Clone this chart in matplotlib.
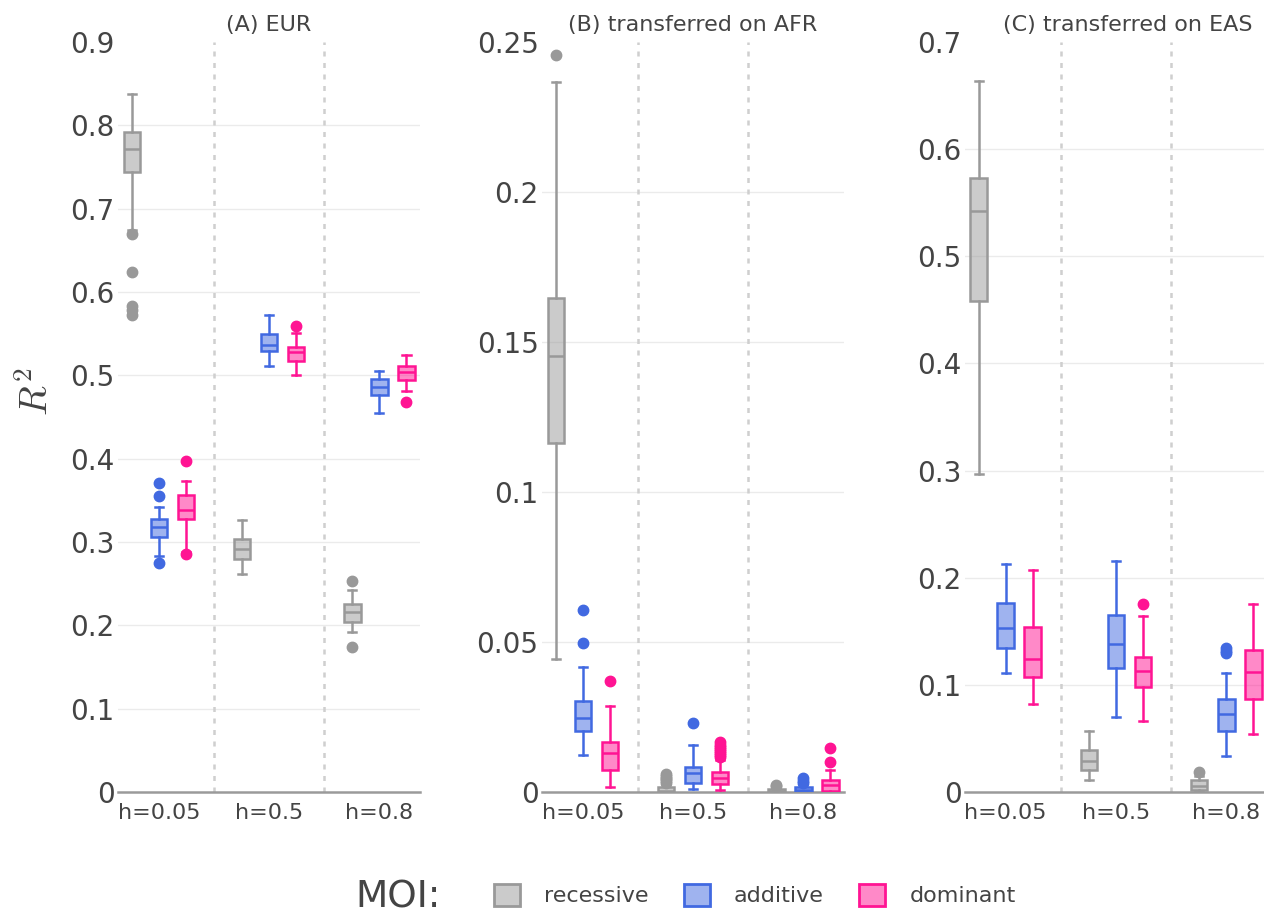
#!/usr/bin/env python
"""Box plots of R^2 per MOI and heritability, three populations"""

import matplotlib
matplotlib.use("Agg")
import matplotlib.pyplot as plt
from matplotlib.patches import Patch

plt.rcParams['font.family'] = ['DejaVu Sans']
plt.rcParams['mathtext.fontset'] = 'cm'

groups = ['h=0.05', 'h=0.5', 'h=0.8']
moi = ['recessive', 'additive', 'dominant']
colors = {'recessive': '#999999', 'additive': '#4169E1', 'dominant': '#FF1493'}
titles = ['(A) EUR', '(B) transferred on AFR', '(C) transferred on EAS']

# panel A - EUR
eur_med = {'recessive': [0.771, 0.292, 0.2157], 'additive': [0.318, 0.5366, 0.4858], 'dominant': [0.3385, 0.5274, 0.5038]}
eur_q1 = {'recessive': [0.7435, 0.2793, 0.2045], 'additive': [0.3065, 0.5294, 0.4766], 'dominant': [0.3277, 0.5174, 0.4946]}
eur_q3 = {'recessive': [0.7915, 0.3033, 0.2253], 'additive': [0.3273, 0.5494, 0.4958], 'dominant': [0.3565, 0.5334, 0.5106]}
eur_lo = {'recessive': [0.6745, 0.2617, 0.1917], 'additive': [0.283, 0.5114, 0.4546], 'dominant': [0.2885, 0.4998, 0.4806]}
eur_hi = {'recessive': [0.837, 0.3265, 0.2425], 'additive': [0.3417, 0.5726, 0.5054], 'dominant': [0.3733, 0.5506, 0.5246]}
eur_out = {'recessive': [[0.6695, 0.6235, 0.5826, 0.578, 0.5726], [], [0.2537, 0.1744]],
           'additive': [[0.3713, 0.3553, 0.2753], [], []],
           'dominant': [[0.3977, 0.2857], [0.5586], [0.4678]]}

# panel B - AFR
afr_med = {'recessive': [0.1453, 0.0004, 0.0003], 'additive': [0.0248, 0.0062, 0.0005], 'dominant': [0.0129, 0.0046, 0.0024]}
afr_q1 = {'recessive': [0.1164, 0.0, 0.0], 'additive': [0.0204, 0.0029, 0.0], 'dominant': [0.0073, 0.0026, 0.0003]}
afr_q3 = {'recessive': [0.1648, 0.0015, 0.001], 'additive': [0.0304, 0.0082, 0.0018], 'dominant': [0.0168, 0.0066, 0.004]}
afr_lo = {'recessive': [0.0443, 0.0, 0.0], 'additive': [0.0123, 0.0009, 0.0], 'dominant': [0.0018, 0.0005, 0.0]}
afr_hi = {'recessive': [0.2368, 0.0025, 0.0015], 'additive': [0.0416, 0.0157, 0.0025], 'dominant': [0.0285, 0.0105, 0.0073]}
afr_out = {'recessive': [[0.2456], [0.006, 0.0054, 0.0048, 0.0042, 0.0036, 0.003], [0.0022, 0.0019]],
           'additive': [[0.0607, 0.0498], [0.0229], [0.0045, 0.0038, 0.0031]],
           'dominant': [[0.037], [0.0165, 0.0158, 0.015, 0.0143, 0.0136, 0.013, 0.0122, 0.0115], [0.0146, 0.0101]]}

# panel C - EAS
eas_med = {'recessive': [0.5418, 0.0292, 0.006], 'additive': [0.1528, 0.1379, 0.0726], 'dominant': [0.1239, 0.1133, 0.1123]}
eas_q1 = {'recessive': [0.4578, 0.0205, 0.002], 'additive': [0.1347, 0.1161, 0.057], 'dominant': [0.1071, 0.0978, 0.0868]}
eas_q3 = {'recessive': [0.573, 0.0392, 0.0112], 'additive': [0.1762, 0.1653, 0.0866], 'dominant': [0.1543, 0.1258, 0.1326]}
eas_lo = {'recessive': [0.2966, 0.0112, 0.0], 'additive': [0.1108, 0.0703, 0.0339], 'dominant': [0.0825, 0.0666, 0.0542]}
eas_hi = {'recessive': [0.6632, 0.0573, 0.0145], 'additive': [0.2129, 0.216, 0.1114], 'dominant': [0.2073, 0.1646, 0.1755]}
eas_out = {'recessive': [[], [], [0.019]],
           'additive': [[], [], [0.1347, 0.132, 0.1295]],
           'dominant': [[], [0.1755], []]}

panels = [
	(eur_med, eur_q1, eur_q3, eur_lo, eur_hi, eur_out, 0.9, 0.1),
	(afr_med, afr_q1, afr_q3, afr_lo, afr_hi, afr_out, 0.25, 0.05),
	(eas_med, eas_q1, eas_q3, eas_lo, eas_hi, eas_out, 0.7, 0.1),
]

#axes placement (figure fractions)
lefts = [0.0934, 0.4288, 0.7634]
width = 0.239
bottom = 0.1373
height = 0.817
title_x = [0.5, 0.5, 0.54]
offsets = {'recessive': -0.245, 'additive': 0.0, 'dominant': 0.245}
lw = 1.8

fig = plt.figure(figsize=(12.64, 9.18), dpi=100)

for p, (med, q1, q3, lo, hi, out, ymax, step) in enumerate(panels):
	ax = fig.add_axes([lefts[p], bottom, width, height])
	ax.set_xlim(-0.37, 2.37)
	ax.set_ylim(0, ymax)
	ticks = [round(i * step, 3) for i in range(int(round(ymax / step)) + 1)]
	ax.set_yticks(ticks)
	ax.set_yticklabels(['0' if t == 0 else ('%g' % t) for t in ticks])
	for t in ticks[1:-1]:
		ax.axhline(t, color='#ebebeb', lw=1.0, zorder=0)
	for xb in (0.5, 1.5):
		ax.axvline(xb, color='#cfcfcf', lw=1.8, linestyle=(0, (2, 2.6)), zorder=1)

	for m in moi:
		c = colors[m]
		stats = []
		for g in range(3):
			stats.append(dict(med=med[m][g], q1=q1[m][g], q3=q3[m][g],
							  whislo=lo[m][g], whishi=hi[m][g], fliers=out[m][g]))
		pos = [g + offsets[m] for g in range(3)]
		ax.bxp(stats, positions=pos, widths=0.15, capwidths=0.075, patch_artist=True,
			   manage_ticks=False, showfliers=True,
			   boxprops=dict(facecolor=matplotlib.colors.to_rgba(c, 0.5), edgecolor=c, linewidth=lw),
			   medianprops=dict(color=c, linewidth=lw),
			   whiskerprops=dict(color=c, linewidth=lw),
			   capprops=dict(color=c, linewidth=lw),
			   flierprops=dict(marker='o', markerfacecolor=c, markeredgecolor=c, markersize=7.5),
			   zorder=3)

	ax.set_xticks(range(3))
	ax.set_xticklabels(groups)
	for s in ('top', 'left', 'right'):
		ax.spines[s].set_visible(False)
	ax.spines['bottom'].set_color('#9a9a9a')
	ax.spines['bottom'].set_linewidth(1.8)
	ax.tick_params(axis='y', length=0, pad=2.5, labelsize=20, labelcolor='#444444')
	ax.tick_params(axis='x', length=0, pad=8, labelsize=16, labelcolor='#444444')
	ax.text(title_x[p], 1 + 17 / 750, titles[p], transform=ax.transAxes,
			ha='center', va='center', fontsize=16, color='#444444')

#y label
fig.text(37 / 1264, 1 - 392 / 918, r'$R^2$', rotation=90, ha='center', va='center',
		 fontsize=28, color='#444444')

#legend
handles = [Patch(facecolor=matplotlib.colors.to_rgba(colors[m], 0.5), edgecolor=colors[m],
				 linewidth=2.0, label=m) for m in moi]
fig.text(355 / 1264, 1 - 898 / 918, 'MOI:', ha='left', va='center', fontsize=27, color='#444444')
leg = fig.legend(handles=handles, loc='center left', bbox_to_anchor=(494 / 1264, 1 - 895 / 918),
				 ncol=3, frameon=False, fontsize=16, handlelength=1.15, handleheight=1.15,
				 handletextpad=1.1, columnspacing=1.6, borderpad=0, borderaxespad=0)
for txt in leg.get_texts():
	txt.set_color('#444444')

plt.savefig('out.png', dpi=100)
